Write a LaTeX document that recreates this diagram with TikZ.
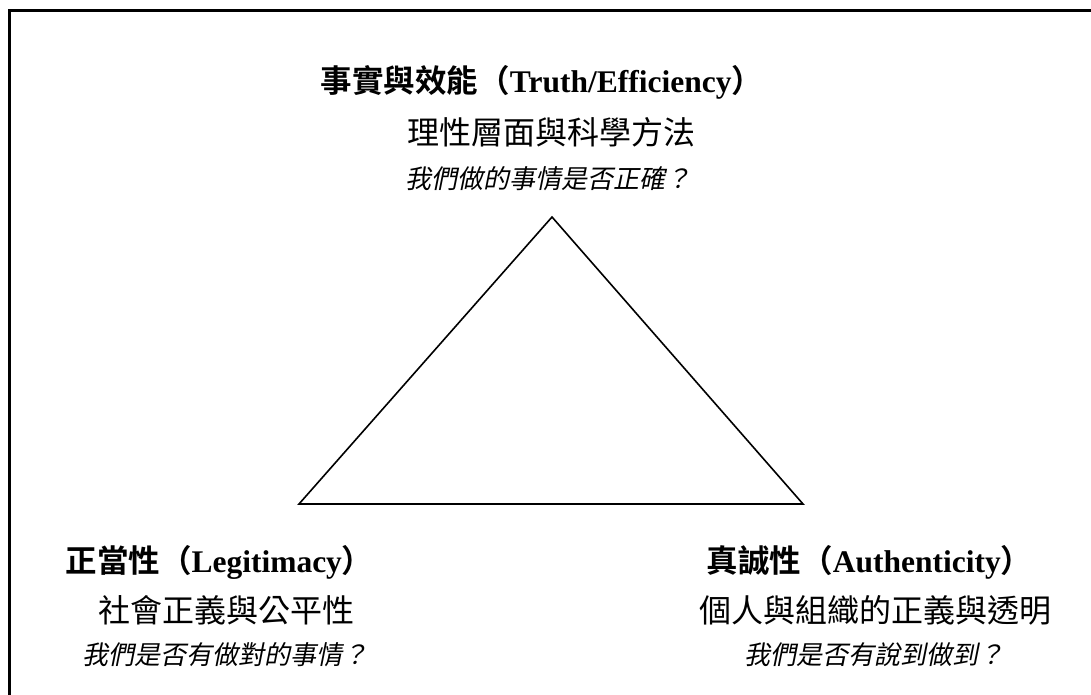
\documentclass[tikz,border=0pt]{standalone}
\usepackage{fontspec}
\newfontfamily\cjk{Noto Sans CJK TC}
\newfontfamily\cjkb{Noto Sans CJK TC}[BoldFont={* Bold}]
\newfontfamily\cjki[FakeSlant=0.2]{Noto Sans CJK TC}
\newfontfamily\latb{Liberation Serif}
\begin{document}
\begin{tikzpicture}[x=1pt,y=-1pt,
  titletext/.style={inner sep=0pt,font=\fontsize{31.5}{36}\selectfont},
  subtext/.style={inner sep=0pt,font=\cjk\fontsize{32}{37}\selectfont},
  qtext/.style={inner sep=0pt,font=\cjki\fontsize{26}{30}\selectfont},
  tri/.style={line width=1.6pt,line join=miter}]
\useasboundingbox (0,0) rectangle (1091,695);
\clip (0,0) rectangle (1091,695);
\draw[line width=3.5pt] (9.5,10.5) rectangle (1110,715);
\coordinate (A) at (552,217);
\coordinate (B) at (299,504);
\coordinate (C) at (803,504);
\draw[tri] (A) -- (B) -- (C) -- cycle;
\node[titletext] (t1) at (542,82) {{\cjkb\bfseries 事實與效能（}{\latb\bfseries Truth/Efficiency}{\cjkb\bfseries ）}};
\node[subtext] (s1) at (551,132) {理性層面與科學方法};
\node[qtext] (q1) at (548,179) {我們做的事情是否正確？};
\node[titletext] (t2) at (219.5,562) {{\cjkb\bfseries 正當性（}{\latb\bfseries Legitimacy}{\cjkb\bfseries ）}};
\node[subtext] (s2) at (226,610) {社會正義與公平性};
\node[qtext] (q2) at (225,655) {我們是否有做對的事情？};
\node[titletext] (t3) at (869.5,562) {{\cjkb\bfseries 真誠性（}{\latb\bfseries Authenticity}{\cjkb\bfseries ）}};
\node[subtext] (s3) at (875,610) {個人與組織的正義與透明};
\node[qtext] (q3) at (874,655) {我們是否有說到做到？};
\end{tikzpicture}
\end{document}
